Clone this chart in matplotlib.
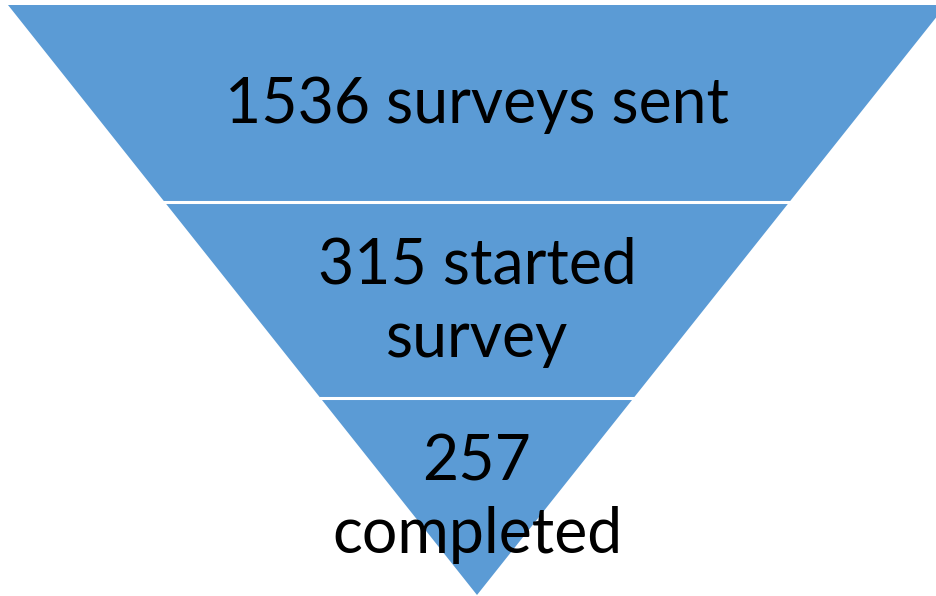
import matplotlib.pyplot as plt
from matplotlib.patches import Polygon

# data
counts = [1536, 315, 257]
stage_text = ["{} surveys sent", "{} started\nsurvey", "{}\ncompleted"]

# layout (pixels, figure is 936x596)
W, H = 936, 596
top_y, apex_y = 5, 595
cx = 477
half_top = 469
fill_col = "#5B9BD5"

fig = plt.figure(figsize=(W / 100, H / 100), dpi=100)
ax = fig.add_axes([0, 0, 1, 1])
ax.set_xlim(0, W)
ax.set_ylim(H, 0)
ax.axis("off")

n = len(counts)
band_h = (apex_y - top_y) / n


def half_w(y):
    return half_top * (apex_y - y) / (apex_y - top_y)


for i, (c, txt) in enumerate(zip(counts, stage_text)):
    y0 = top_y + i * band_h
    y1 = y0 + band_h
    pts = [(cx - half_w(y0), y0), (cx + half_w(y0), y0),
           (cx + half_w(y1), y1), (cx - half_w(y1), y1)]
    ax.add_patch(Polygon(pts, closed=True, facecolor=fill_col, edgecolor="none"))
    if i > 0:
        # white gap between the stages
        ax.plot([cx - half_w(y0) - 2, cx + half_w(y0) + 2], [y0, y0],
                color="white", lw=2.2, solid_capstyle="butt")
    ty = y0 + band_h / 2 + 2
    ax.text(cx, ty, txt.format(c), ha="center", va="center",
            fontsize=45, family="Lato", color="black", linespacing=1.32)

fig.savefig("out.png", dpi=100)
